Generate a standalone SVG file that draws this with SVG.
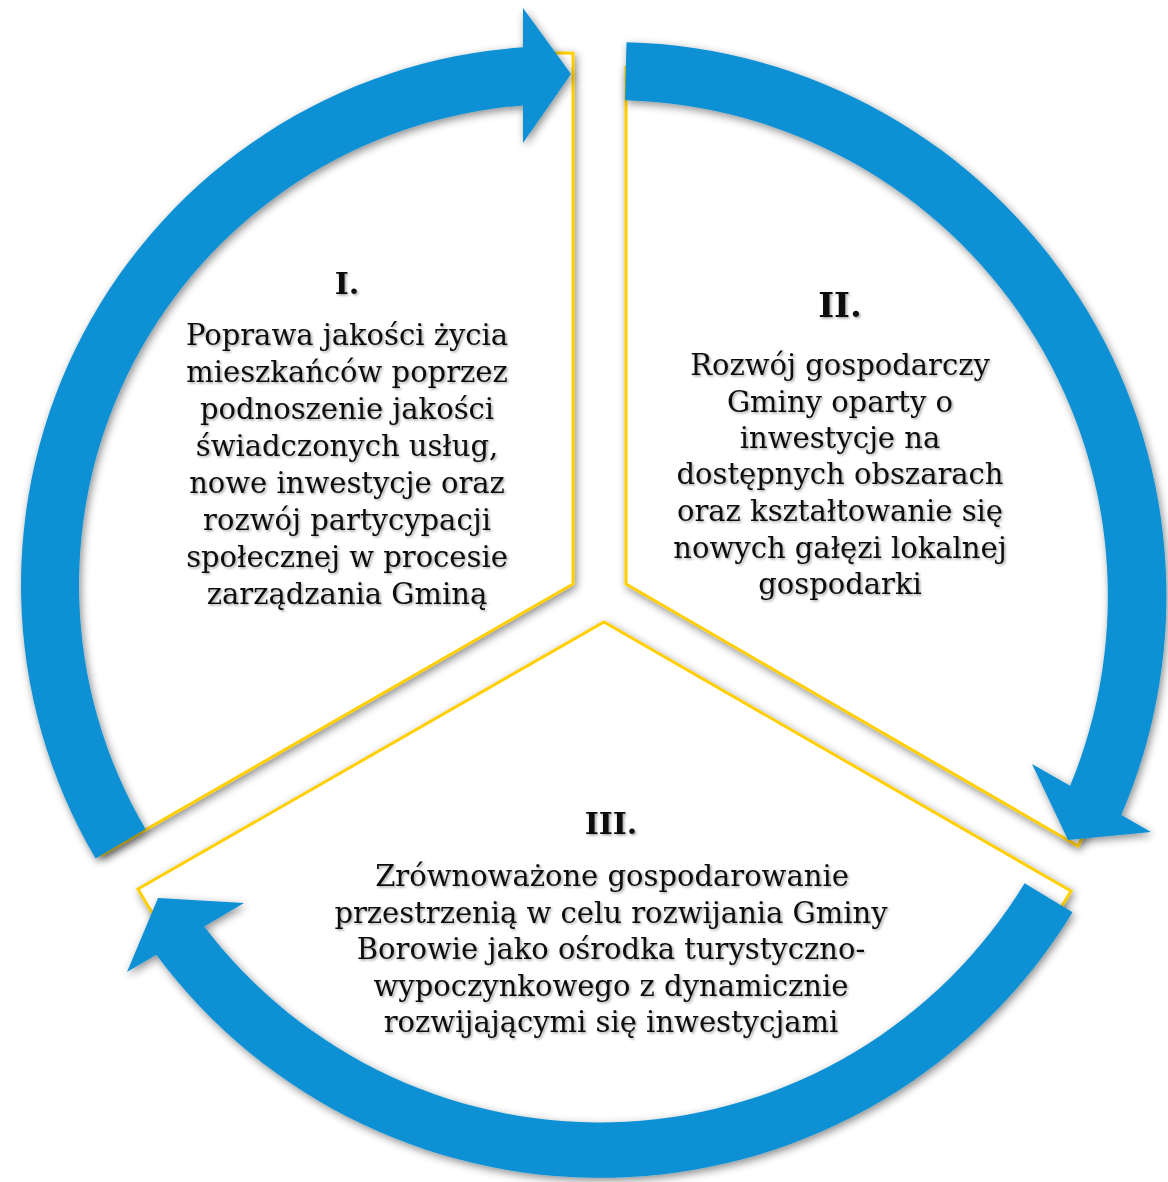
<svg xmlns="http://www.w3.org/2000/svg" width="1168" height="1182" viewBox="0 0 1168 1182">
<defs>
<filter id="sh" x="-10%" y="-10%" width="120%" height="120%">
<feDropShadow dx="2" dy="3" stdDeviation="4" flood-color="#000" flood-opacity="0.45"/>
</filter>
<filter id="tsh" x="-5%" y="-20%" width="110%" height="140%">
<feDropShadow dx="1.5" dy="1.5" stdDeviation="1" flood-color="#000" flood-opacity="0.35"/>
</filter>
<style>
.sec{fill:#fff;stroke:#FFCF00;stroke-width:3;stroke-linejoin:miter}
.arr{fill:#0E90D4}
.t{font-family:"DejaVu Serif","Liberation Serif",serif;font-size:29px;fill:#111;text-anchor:middle}
.h{font-family:"DejaVu Serif","Liberation Serif",serif;font-weight:bold;fill:#111;text-anchor:middle}
</style>
</defs>
<rect width="1168" height="1182" fill="#fff"/>

<g id="sector-1" filter="url(#sh)">
<path class="sec" d="M573,584 L573,53.2 A532,532 0 0 0 101.6,855 Z"/>
</g>
<g id="sector-2" filter="url(#sh)">
<path class="sec" d="M626,584 L626,67.2 A529,529 0 0 1 1078,846 Z"/>
</g>
<g id="sector-3" filter="url(#sh)">
<path class="sec" d="M604,622 L1071,891 A537,537 0 0 1 138,889 Z"/>
</g>

<g id="connectors" filter="url(#sh)">
<path class="arr" d="M95.6,858.6 A539,539 0 0 1 523,47.3 L523,8 L571,74 L523,143 L523,105.4 A481,481 0 0 0 145.6,829.1 Z"/>
<path class="arr" d="M626.5,42.2 A554,554 0 0 1 1121.3,815 L1151,832 L1068,840 L1032,764 L1070.1,785.8 A496,496 0 0 0 625,100.2 Z"/>
<path class="arr" d="M1072.5,912.3 A553,553 0 0 1 156.3,954.8 L127,972 L158,898 L244,903 L204.2,926.5 A497,497 0 0 0 1024.6,883.2 Z"/>
</g>

<g id="text-1" filter="url(#tsh)">
<text class="h" x="347" y="294" font-size="30">I.</text>
<text class="t" x="347" y="345">Poprawa jakości życia</text>
<text class="t" x="347" y="382">mieszkańców poprzez</text>
<text class="t" x="347" y="419">podnoszenie jakości</text>
<text class="t" x="347" y="456">świadczonych usług,</text>
<text class="t" x="347" y="493">nowe inwestycje oraz</text>
<text class="t" x="347" y="530">rozwój partycypacji</text>
<text class="t" x="347" y="567">społecznej w procesie</text>
<text class="t" x="347" y="604">zarządzania Gminą</text>
</g>
<g id="text-2" filter="url(#tsh)">
<text class="h" x="840" y="317" font-size="34">II.</text>
<text class="t" x="840" y="375">Rozwój gospodarczy</text>
<text class="t" x="840" y="412">Gminy oparty o</text>
<text class="t" x="840" y="448">inwestycje na</text>
<text class="t" x="840" y="484">dostępnych obszarach</text>
<text class="t" x="840" y="521">oraz kształtowanie się</text>
<text class="t" x="840" y="558">nowych gałęzi lokalnej</text>
<text class="t" x="840" y="594">gospodarki</text>
</g>
<g id="text-3" filter="url(#tsh)">
<text class="h" x="611" y="834" font-size="30">III.</text>
<text class="t" x="612" y="886">Zrównoważone gospodarowanie</text>
<text class="t" x="611" y="923">przestrzenią w celu rozwijania Gminy</text>
<text class="t" x="611" y="959">Borowie jako ośrodka turystyczno-</text>
<text class="t" x="611" y="996">wypoczynkowego z dynamicznie</text>
<text class="t" x="611" y="1032">rozwijającymi się inwestycjami</text>
</g>
</svg>
